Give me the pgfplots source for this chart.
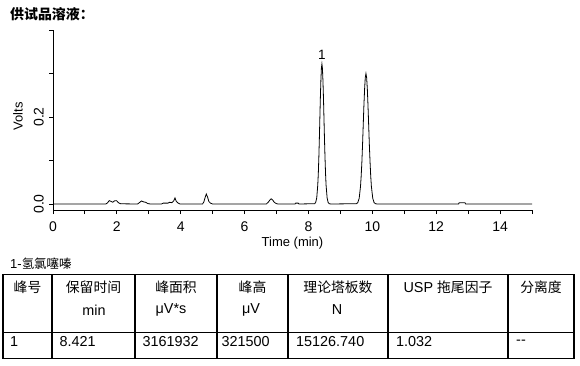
\documentclass[border=0pt]{standalone}
\usepackage{pgfplots}
\pgfplotsset{compat=1.18}
\usepackage{fontspec}
\setmainfont{Liberation Sans}
\newfontfamily\cjk{Noto Sans CJK SC}[Scale=0.96]
\begin{document}
\begin{tikzpicture}[x=1pt,y=1pt]
\useasboundingbox (0,0) rectangle (580,-366);
\begin{axis}[
  at={(53pt,-210pt)}, anchor=south west,
  scale only axis, width=479pt, height=180pt,
  xmin=0, xmax=15, ymin=-0.01379, ymax=0.4,
  axis lines=left, axis line style={-, line width=0.9pt},
  tick align=outside, major tick length=4pt, minor tick length=4pt,
  tick style={line width=0.9pt, black},
  xtick={0,2,...,14}, minor xtick={1,3,...,15},
  ytick={0,0.2}, minor ytick={0.1,0.3,0.4},
  yticklabels={0.0,0.2},
  ticklabel style={font=\fontsize{14}{16}\selectfont},
  /pgf/number format/assume math mode=true,
  yticklabel style={rotate=90, anchor=south, inner sep=5pt},
  xticklabel style={yshift=-4pt},
  xlabel={Time (min)}, ylabel={Volts},
  label style={font=\fontsize{13}{15}\selectfont},
  xlabel style={at={(axis description cs:0.5,0)}, anchor=north, yshift=-27pt, inner sep=0pt},
  ylabel style={at={(axis description cs:-0.073,0.52)}, anchor=center, inner sep=0pt},
  clip=false,
]
\addplot[black, line width=0.8pt] coordinates {
(0,0) (1.65,0) (1.70,0.002) (1.76,0.0077) (1.82,0.006) (1.87,0.004) (1.93,0.0075) (1.99,0.0077) (2.05,0.003) (2.12,0.0005)
(2.65,0) (2.72,0.004) (2.77,0.007) (2.83,0.005) (2.90,0.004) (2.97,0.001) (3.05,0)
(3.40,0) (3.45,0.002) (3.60,0.002) (3.65,0.004) (3.72,0.003) (3.78,0.007) (3.82,0.014) (3.86,0.006) (3.92,0.002) (3.98,0)
(4.68,0) (4.72,0.004) (4.76,0.014) (4.80,0.023) (4.84,0.016) (4.88,0.006) (4.93,0.002) (5.00,0)
(6.68,0) (6.74,0.004) (6.79,0.009) (6.83,0.012) (6.88,0.009) (6.93,0.004) (6.99,0.001) (7.05,0)
(7.58,0) (7.60,0.002) (7.68,0.002) (7.70,0)
(8.194,0.0007) (8.226,0.0036) (8.259,0.0141) (8.291,0.0436) (8.308,0.0697) (8.324,0.1046) (8.340,0.1474) (8.356,0.1953) (8.372,0.2430) (8.389,0.2842) (8.405,0.3121) (8.421,0.322)
(8.437,0.3121) (8.453,0.2842) (8.470,0.2430) (8.486,0.1953) (8.502,0.1474) (8.519,0.1046) (8.535,0.0697) (8.551,0.0436) (8.584,0.0141) (8.616,0.0036) (8.649,0.0007) (8.70,0)
(9.503,0.0007) (9.545,0.0033) (9.588,0.0132) (9.630,0.0406) (9.651,0.0649) (9.673,0.0974) (9.694,0.1373) (9.715,0.1820) (9.736,0.2264) (9.758,0.2648) (9.779,0.2908) (9.80,0.300)
(9.821,0.2908) (9.843,0.2648) (9.864,0.2264) (9.885,0.1820) (9.906,0.1373) (9.928,0.0974) (9.949,0.0649) (9.970,0.0406) (10.013,0.0132) (10.055,0.0033) (10.098,0.0007) (10.15,0)
(12.70,0) (12.72,0.003) (12.90,0.003) (12.92,0) (15,0)
};
\node[font=\fontsize{13.5}{15}\selectfont, inner sep=0pt] at (axis cs:8.421,0.3435) {1};
\end{axis}
% titles
\node[anchor=west, inner sep=0pt, font=\cjk\bfseries\fontsize{14.5}{16}\selectfont] at (10,-14) {供试品溶液：};
\node[anchor=west, inner sep=0pt, font=\fontsize{13}{15}\selectfont] at (10,-264) {1-\cjk\fontsize{13}{15}\selectfont 氢氯噻嗪};
% table grid
\draw[line width=1.2pt] (3,-274.3) rectangle (574,-358.3);
\draw[line width=1.2pt] (3,-332.3) -- (574,-332.3);
\foreach \xx in {52,135,217,288,388,508} \draw[line width=1.2pt] (\xx,-274.3) -- (\xx,-358.3);
\begin{scope}[every node/.style={inner sep=0pt, font=\fontsize{14.4}{16}\selectfont}]
\node at (27.5,-287.5) {\cjk 峰号};
\node at (93.5,-287.5) {\cjk 保留时间};
\node at (176,-287.5) {\cjk 峰面积};
\node at (252.5,-287.5) {\cjk 峰高};
\node at (338,-287.5) {\cjk 理论塔板数};
\node at (448,-287.5) {USP {\cjk 拖尾因子}};
\node at (541,-287.5) {\cjk 分离度};
\node at (94,-310) {min};
\node at (171,-310) {μV*s};
\node at (251,-310) {μV};
\node at (337,-310) {N};
\node[anchor=west] at (10,-342) {1};
\node[anchor=west] at (59.5,-342) {8.421};
\node[anchor=west] at (142.5,-342) {3161932};
\node[anchor=west] at (221.5,-342) {321500};
\node[anchor=west] at (296,-342) {15126.740};
\node[anchor=west] at (396,-342) {1.032};
\node[anchor=west] at (516,-342) {-{}-};
\end{scope}
\end{tikzpicture}
\end{document}
